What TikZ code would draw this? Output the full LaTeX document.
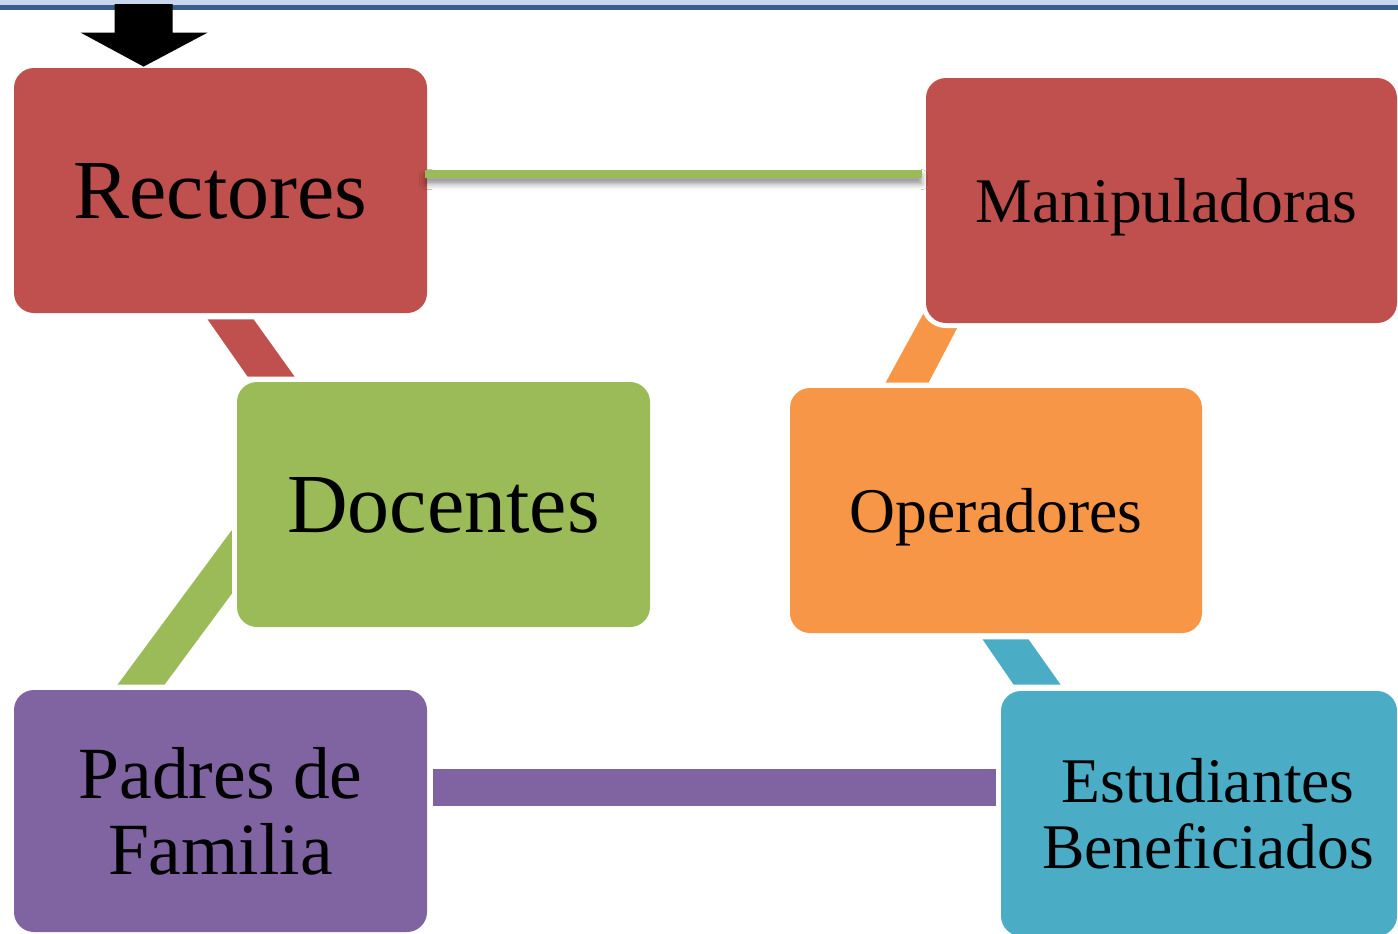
\documentclass[tikz,border=0pt]{standalone}
\usepackage{fontspec}
\setmainfont{Liberation Serif}
\usetikzlibrary{calc,shadows.blur}
\definecolor{redc}{HTML}{C0504D}
\definecolor{greenc}{HTML}{9BBB59}
\definecolor{purplec}{HTML}{8064A2}
\definecolor{orangec}{HTML}{F79646}
\definecolor{bluec}{HTML}{4BACC6}
\definecolor{bandlight}{HTML}{C9D7EE}
\definecolor{banddark}{HTML}{3A5E8C}
\tikzset{
  box/.style={rectangle, rounded corners=10pt, inner sep=0pt, align=center,
    preaction={draw=white, line width=5pt}, text=black},
  big/.style={font=\fontsize{42}{44}\selectfont},
  mid/.style={font=\fontsize{31.8}{33}\selectfont},
  pad/.style={font=\fontsize{36.8}{38}\selectfont},
}
\begin{document}
\begin{tikzpicture}[x=0.5pt,y=-0.5pt]
\useasboundingbox (0,0) rectangle (1398,933);
\clip (0,0) rectangle (1398,933);
% top band
\fill[bandlight] (0,0) rectangle (1398,4.5);
\fill[banddark] (0,4.5) rectangle (1398,9.5);

% box positions
\path
  (220.5,190.5) coordinate (rectc)
  (1161.5,200.5) coordinate (manipc)
  (443.5,504.5) coordinate (docc)
  (996,510.5) coordinate (operc)
  (220.5,811) coordinate (padresc)
  (1199,813.5) coordinate (estudc);
\path[use as bounding box=false] ;
% invisible placeholders to get anchors for connectors
\path
  (rectc) node[inner sep=0pt, minimum width=206.5pt, minimum height=122.5pt] (rect) {}
  (manipc) node[inner sep=0pt, minimum width=235.5pt, minimum height=122.5pt] (manip) {}
  (docc) node[inner sep=0pt, minimum width=206.5pt, minimum height=122.5pt] (doc) {}
  (operc) node[inner sep=0pt, minimum width=206pt, minimum height=122.5pt] (oper) {}
  (padresc) node[inner sep=0pt, minimum width=206.5pt, minimum height=121pt] (padres) {}
  (estudc) node[inner sep=0pt, minimum width=198pt, minimum height=122.5pt] (estud) {};

% connectors (under the boxes)
\fill[redc] ($(rect.south west)+(194,6)$) -- ($(rect.south west)+(240,6)$)
  -- ($(doc.north west)+(58,-5)$) -- ($(doc.north west)+(11,-5)$) -- cycle;
\fill[greenc] ($(padres.north west)+(104,-5)$) -- ($(doc.south west)+(-5,-97)$)
  -- ($(doc.south west)+(42,-97)$) -- ($(padres.north west)+(151,-5)$) -- cycle;
\fill[orangec] ($(oper.north west)+(96,-5)$) -- ($(manip.south west)+(5,-23)$)
  -- ($(manip.south west)+(46,-23)$) -- ($(oper.north west)+(139,-5)$) -- cycle;
\fill[bluec] ($(oper.south west)+(193,6)$) -- ($(oper.south west)+(239,6)$)
  -- ($(estud.north west)+(60,-6)$) -- ($(estud.north west)+(13,-6)$) -- cycle;

% boxes drawn on top
\node[box, fill=redc, minimum width=206.5pt, minimum height=122.5pt, big, text depth=0pt] (rectbox) at (rect) {Rectores};
\node[box, fill=redc, minimum width=235.5pt, minimum height=122.5pt, mid, text depth=0pt] (manipbox) at (manip) {\hspace*{5pt}Manipuladoras};
\node[box, fill=greenc, minimum width=206.5pt, minimum height=122.5pt, big, text depth=0pt] (docbox) at (doc) {Docentes};
\node[box, fill=orangec, minimum width=206pt, minimum height=122.5pt, mid, text depth=0pt] (operbox) at (oper) {Operadores};
\node[box, fill=purplec, minimum width=206.5pt, minimum height=121pt, pad] (padresbox) at (padres) {Padres de\\Familia};
\node[box, fill=bluec, minimum width=198pt, minimum height=122.5pt, mid] (estudbox) at (estud) {\hspace*{9pt}Estudiantes\\\hspace*{9pt}Beneficiados};

% horizontal connectors
\fill[greenc, blur shadow={shadow xshift=0pt, shadow yshift=-3pt, shadow blur radius=3pt, shadow opacity=45}]
  ($(rect.north east)+(-2,102)$) rectangle ($(manip.north west)+(-4,100)$);
\fill[purplec] ($(padres.north east)+(6,79)$) rectangle ($(estud.north west)+(-5,115)$);

% black arrow into Rectores
\coordinate (tip) at ($(rect.north west)+(130,-1)$);
\fill[black] (tip) -- ++(64,-34) -- ++(-35,0) -- ++(0,-28.5) -- ++(-58,0)
  -- ++(0,28.5) -- ++(-34,0) -- cycle;
\end{tikzpicture}
\end{document}
